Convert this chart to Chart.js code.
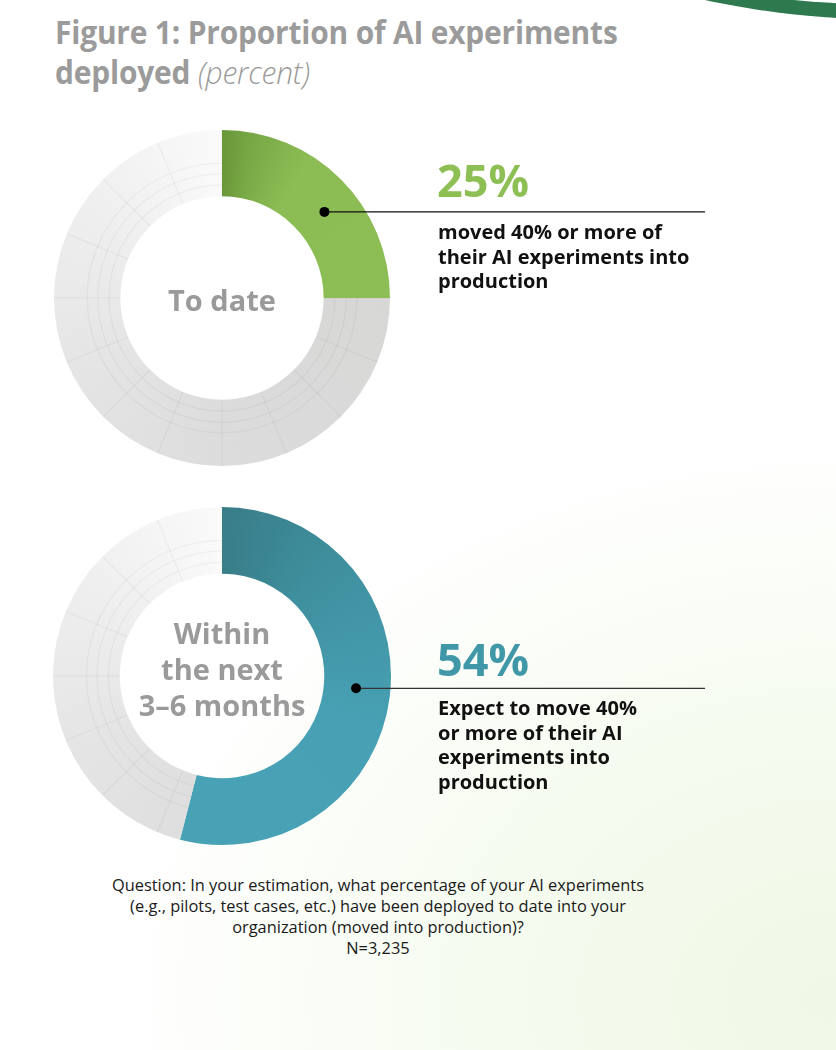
<!DOCTYPE html>
<html>
<head>
<meta charset="utf-8">
<script src="https://cdn.jsdelivr.net/npm/chart.js@4.4.1/dist/chart.umd.min.js"></script>
<style>
  html, body { margin: 0; padding: 0; }
  body {
    width: 836px; height: 1050px; position: relative; overflow: hidden;
    font-family: 'Open Sans', 'Noto Sans', sans-serif;
    background: radial-gradient(ellipse 900px 700px at 100% 95%, #eef8e4 0%, #f7fcf2 45%, #ffffff 80%);
  }
  .swoosh {
    position: absolute; left: 520px; top: -262px; width: 760px; height: 282px;
    border-radius: 50%; border-bottom: 15px solid #2e7a4e; box-sizing: border-box;
  }
  .title {
    position: absolute; left: 55px; top: 12px; margin: 0; white-space: nowrap;
    font-size: 32px; line-height: 40px; font-weight: 700; color: #9b9b9b;
    letter-spacing: -0.2px; transform: scaleX(0.935); transform-origin: left top;
  }
  .title em { font-style: italic; font-weight: 300; }
  .box { position: absolute; left: 0; width: 720px; }
  .center {
    position: absolute; left: 112px; width: 220px; text-align: center;
    font-size: 29px; line-height: 36px; font-weight: 700; color: #9a9a9a;
  }
  .big { position: absolute; left: 437px; font-size: 45px; line-height: 45px; font-weight: 700; }
  .desc {
    position: absolute; left: 438px; font-size: 20px; line-height: 24.7px;
    font-weight: 700; color: #111;
  }
  .note {
    position: absolute; left: 28px; width: 700px; top: 874px; text-align: center;
    font-size: 16.4px; line-height: 21px; color: #1a1a1a;
  }
</style>
</head>
<body>
<div class="swoosh"></div>
<h1 class="title">Figure 1: Proportion of AI experiments<br>deployed <em>(percent)</em></h1>

<div class="box" style="top:120px;height:356px"><canvas id="chartToDate"></canvas></div>
<div class="box" style="top:497px;height:358px"><canvas id="chartNext"></canvas></div>

<div class="center" style="top:282px">To date</div>
<div class="center" style="top:615px">Within<br>the next<br>3–6 months</div>

<div class="big" style="top:157px;color:#8dbf55">25%</div>
<div class="desc" style="top:220px">moved 40% or more of<br>their AI experiments into<br>production</div>

<div class="big" style="top:636px;color:#3f97a8">54%</div>
<div class="desc" style="top:696px">Expect to move 40%<br>or more of their AI<br>experiments into<br>production</div>

<div class="note">Question: In your estimation, what percentage of your AI experiments<br>(e.g., pilots, test cases, etc.) have been deployed to date into your<br>organization (moved into production)?<br>N=3,235</div>

<script>
// data
const sliceLabels = ['40% or more in production', 'Less than 40%'];
const periods = ['To date', 'Within the next 3–6 months'];
const shareDeployed = [25, 54];
const shareRest = [75, 46];

// colours (conic stops, 0 = 12 o'clock)
const greenStops = [[0, '#6a9739'], [0.035, '#7aaa47'], [0.09, '#8cbd54'], [1, '#8fc157']];
const tealStops = [[0, '#387d88'], [0.12, '#3f8f9e'], [0.3, '#47a0b3'], [1, '#4ba6ba']];
const greyStops = [[0, '#d6d6d5'], [0.25, '#d7d7d6'], [0.5, '#dcdcdc'], [0.7, '#e6e6e6'], [0.88, '#f1f1f1'], [1, '#fafafa']];

function conic(chart, stops) {
  const area = chart.chartArea;
  if (!area) return stops[stops.length - 1][1];
  const cx = (area.left + area.right) / 2;
  const cy = (area.top + area.bottom) / 2;
  const g = chart.ctx.createConicGradient(-Math.PI / 2, cx, cy);
  stops.forEach((s) => g.addColorStop(s[0], s[1]));
  return g;
}

// faint grid on the grey part
const gridPlugin = {
  id: 'greyGrid',
  afterDatasetsDraw(chart) {
    const arc = chart.getDatasetMeta(0).data[1];
    if (!arc) return;
    const { x, y, startAngle, endAngle, innerRadius, outerRadius } = arc.getProps(
      ['x', 'y', 'startAngle', 'endAngle', 'innerRadius', 'outerRadius'], true);
    const ctx = chart.ctx;
    ctx.save();
    ctx.beginPath();
    ctx.arc(x, y, outerRadius, startAngle, endAngle);
    ctx.arc(x, y, innerRadius, endAngle, startAngle, true);
    ctx.closePath();
    ctx.clip();
    ctx.strokeStyle = 'rgba(0,0,0,0.035)';
    ctx.lineWidth = 1.5;
    const ring = outerRadius - innerRadius;
    [0.17, 0.34, 0.5].forEach((f) => {
      ctx.beginPath();
      ctx.arc(x, y, innerRadius + ring * f, 0, Math.PI * 2);
      ctx.stroke();
    });
    for (let a = -90; a < 270; a += 22.5) {
      const r = (a * Math.PI) / 180;
      ctx.beginPath();
      ctx.moveTo(x + Math.cos(r) * innerRadius, y + Math.sin(r) * innerRadius);
      ctx.lineTo(x + Math.cos(r) * outerRadius, y + Math.sin(r) * outerRadius);
      ctx.stroke();
    }
    ctx.restore();
  },
};

// dot + leader line from the coloured slice
const leaderPlugin = {
  id: 'leader',
  afterDraw(chart, args, opts) {
    const arc = chart.getDatasetMeta(0).data[0];
    if (!arc) return;
    const { x, y, startAngle, endAngle, innerRadius, outerRadius } = arc.getProps(
      ['x', 'y', 'startAngle', 'endAngle', 'innerRadius', 'outerRadius'], true);
    const ang = startAngle + (endAngle - startAngle) * opts.at;
    const rad = (innerRadius + outerRadius) / 2 - 1;
    const px = x + Math.cos(ang) * rad;
    const py = y + Math.sin(ang) * rad;
    const ctx = chart.ctx;
    ctx.save();
    ctx.strokeStyle = opts.color;
    ctx.lineWidth = 1.3;
    ctx.beginPath();
    ctx.moveTo(px, py);
    ctx.lineTo(opts.endX, py);
    ctx.stroke();
    ctx.fillStyle = '#000';
    ctx.beginPath();
    ctx.arc(px, py, 5, 0, Math.PI * 2);
    ctx.fill();
    ctx.restore();
  },
};

function makeDonut(id, i, stops, pad, lineColor, at) {
  return new Chart(document.getElementById(id), {
    type: 'doughnut',
    data: {
      labels: sliceLabels,
      datasets: [{
        label: periods[i],
        data: [shareDeployed[i], shareRest[i]],
        backgroundColor: (c) => conic(c.chart, c.dataIndex === 0 ? stops : greyStops),
        borderWidth: 0,
      }],
    },
    options: {
      responsive: true,
      maintainAspectRatio: false,
      animation: false,
      cutout: '60.5%',
      layout: { padding: pad },
      plugins: {
        legend: { display: false },
        tooltip: { enabled: false },
        leader: { endX: 705, color: lineColor, at: at },
      },
    },
    plugins: [gridPlugin, leaderPlugin],
  });
}

makeDonut('chartToDate', 0, greenStops, { left: 54, right: 330, top: 10, bottom: 10 }, '#111', 0.555);
makeDonut('chartNext', 1, tealStops, { left: 53, right: 329, top: 10, bottom: 10 }, '#333', 0.49);
</script>
</body>
</html>
